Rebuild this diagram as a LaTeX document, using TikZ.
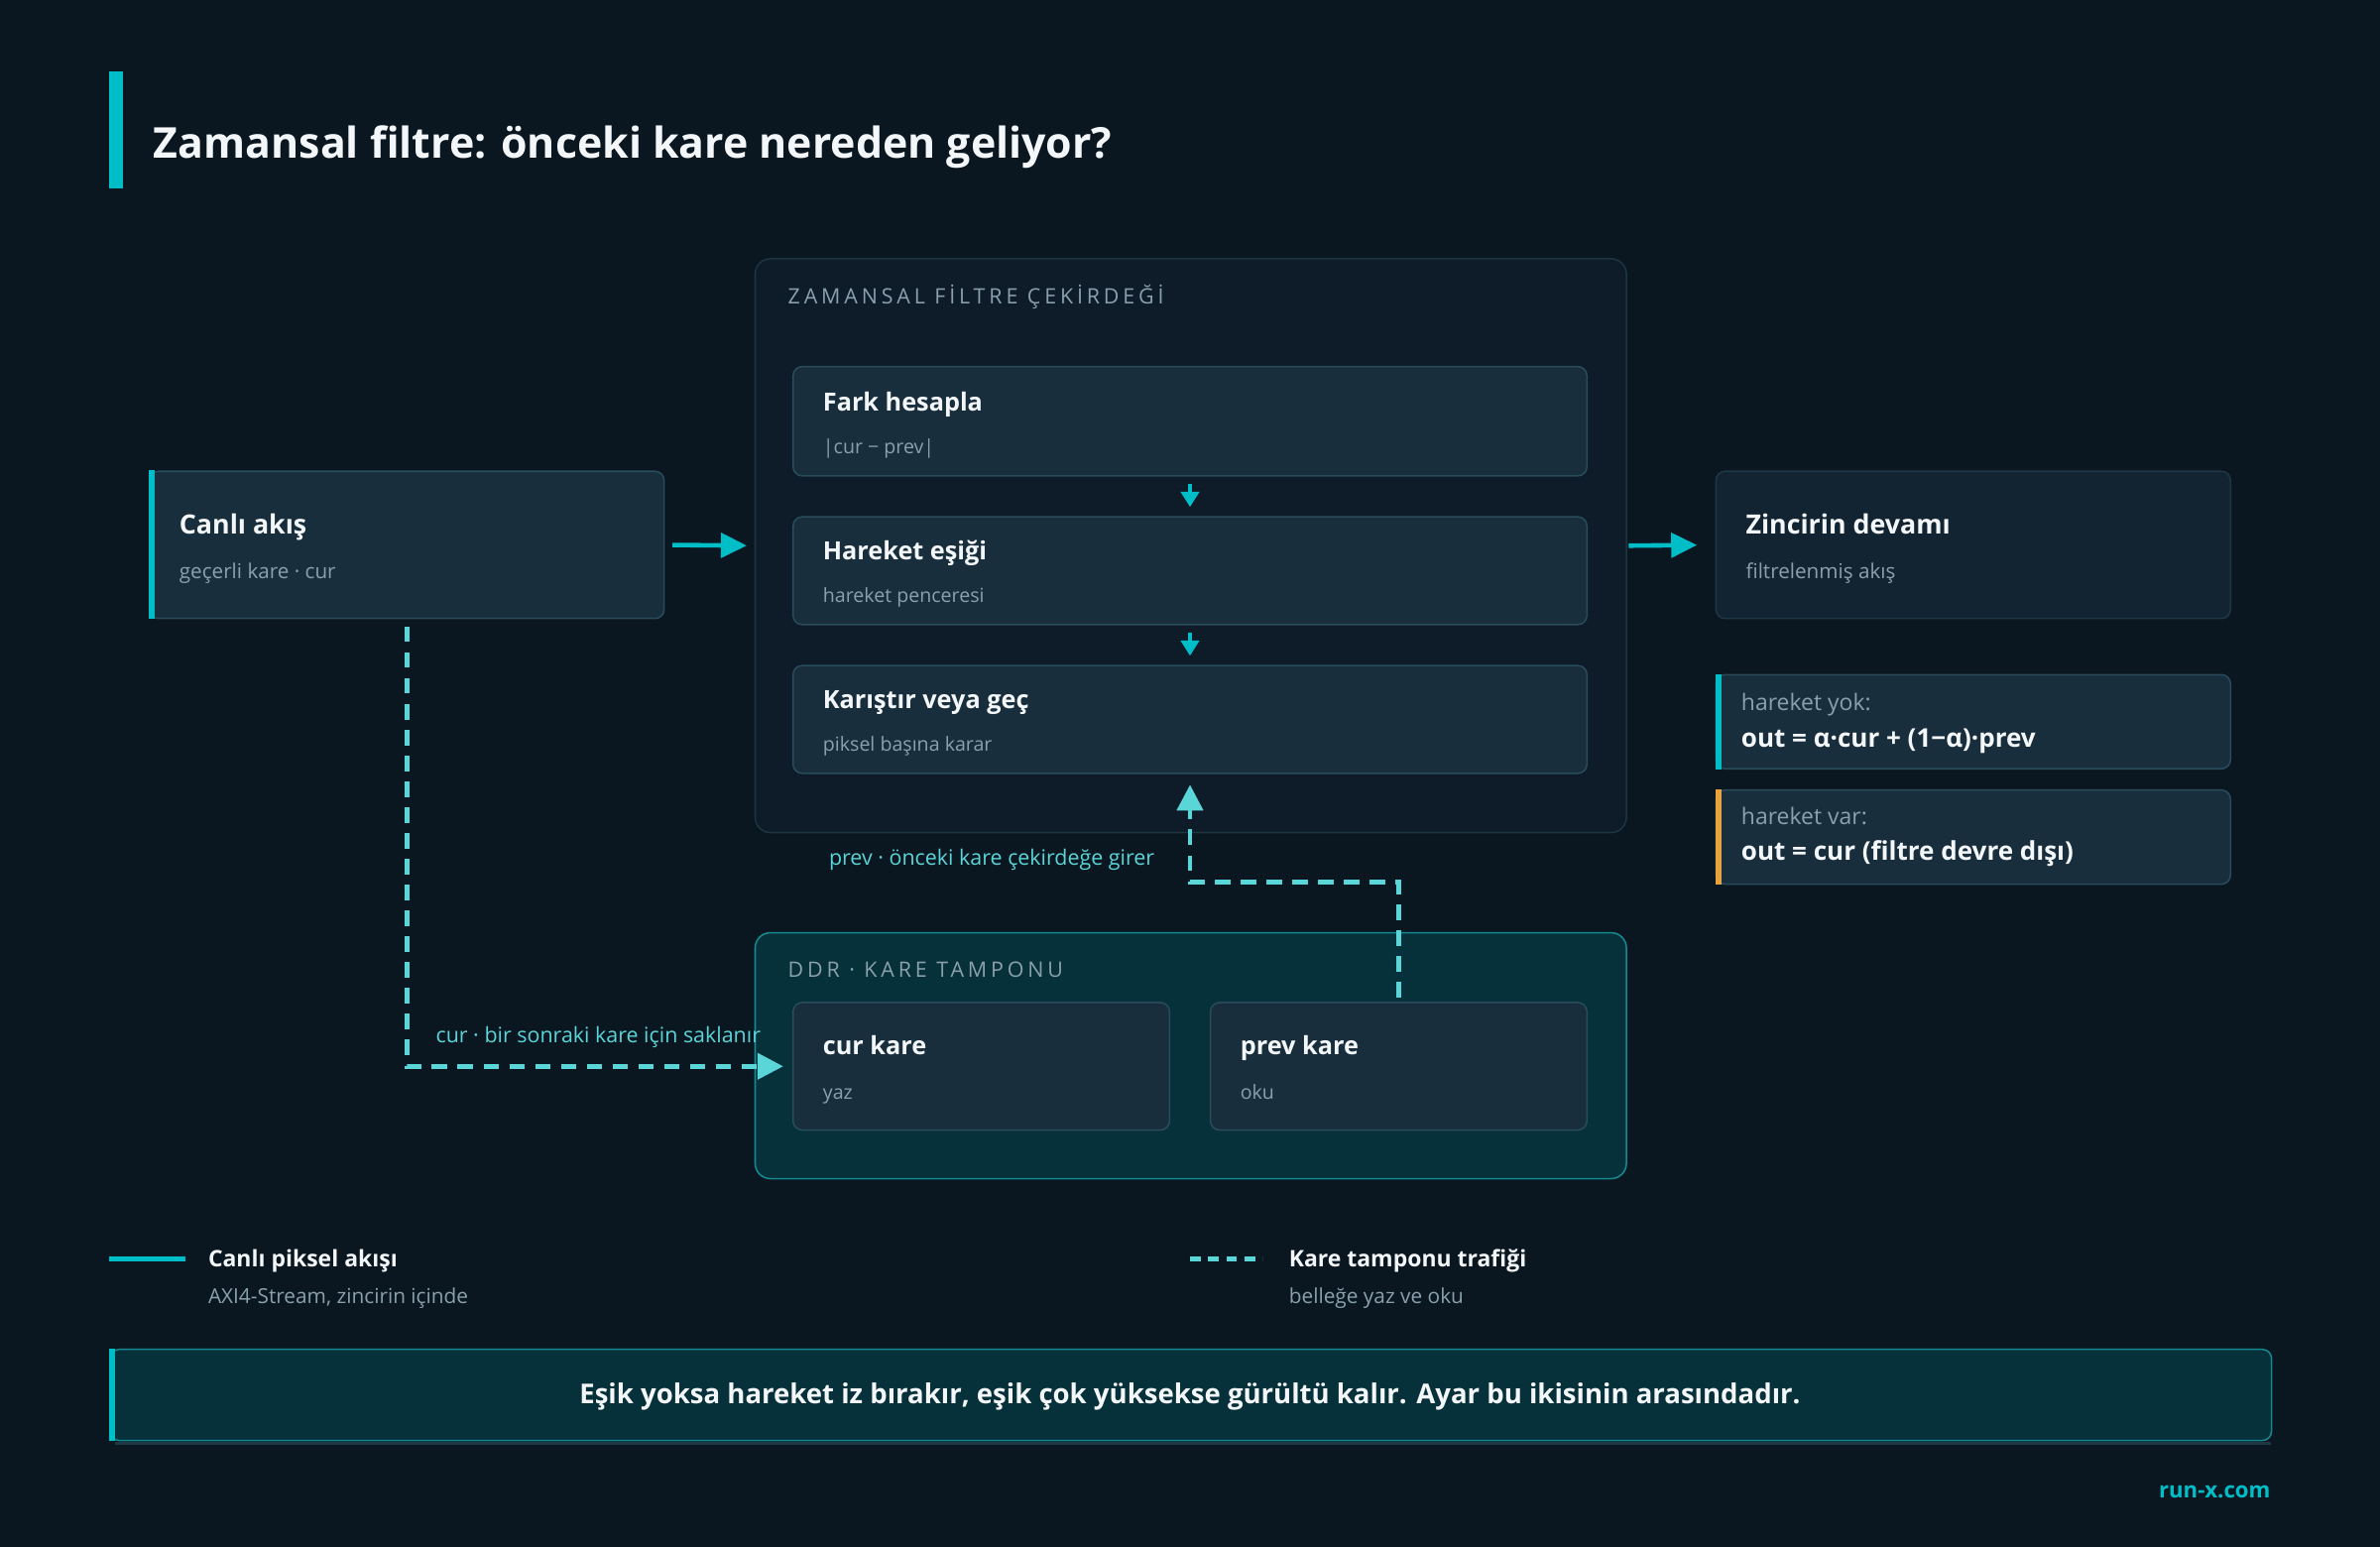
\documentclass[tikz,border=0pt]{standalone}
\usepackage{fontspec}
\setmainfont{Open Sans}
\newfontfamily\capsfont[LetterSpace=18]{Open Sans}
\usetikzlibrary{positioning, calc, arrows.meta}

\definecolor{bg}{HTML}{0A1620}
\definecolor{corefill}{HTML}{0D1C28}
\definecolor{coreline}{HTML}{1D3441}
\definecolor{cardfill}{HTML}{182E3C}
\definecolor{cardline}{HTML}{2A4B5B}
\definecolor{endfill}{HTML}{122431}
\definecolor{endline}{HTML}{1F3745}
\definecolor{livec}{HTML}{00BEC8}
\definecolor{bufc}{HTML}{5AD5D8}
\definecolor{muted}{HTML}{8AA1AD}
\definecolor{ddrfill}{HTML}{07313A}
\definecolor{ddrline}{HTML}{148990}
\definecolor{warnc}{HTML}{E6A23C}
\definecolor{headc}{HTML}{F4F7F9}

\tikzset{
  panel/.style={draw=coreline, fill=corefill, line width=1pt, rounded corners=10pt, anchor=north west, inner sep=0},
  card/.style={draw=cardline, fill=cardfill, line width=1pt, rounded corners=6pt, anchor=north west, inner sep=0},
  head/.style={anchor=base west, inner sep=0, text=headc, font=\fontsize{16.5}{19}\selectfont\bfseries},
  sidehead/.style={head, font=\fontsize{17.5}{20}\selectfont\bfseries},
  sub/.style={anchor=base west, inner sep=0, text=muted, font=\fontsize{12.8}{16}\selectfont},
  sidesub/.style={sub, font=\fontsize{13.5}{16}\selectfont},
  caps/.style={anchor=base west, inner sep=0, text=muted, font=\capsfont\fontsize{14}{16}\selectfont},
  note/.style={anchor=base west, inner sep=0, text=bufc, font=\fontsize{14}{16}\selectfont},
  live/.style={draw=livec, line width=3pt, -{Triangle[length=17pt, width=16pt]}},
  step arrow/.style={draw=livec, line width=2pt, -{Triangle[length=10pt, width=12pt]}},
  buf/.style={draw=bufc, line width=3pt, dash pattern=on 10pt off 7pt, -{Triangle[length=17pt, width=17pt]}},
}

\begin{document}
\begin{tikzpicture}[x=1pt, y=-1pt]
  \fill[bg] (0,0) rectangle (1568,1019);
  \useasboundingbox (0,0) rectangle (1568,1019);

  % title
  \fill[livec] (72,47) rectangle (81,124);
  \node (title) [anchor=base west, inner sep=0, text=headc, font=\fontsize{28}{32}\selectfont\bfseries] at (101,104) {Zamansal filtre: önceki kare nereden geliyor?};

  % filter core
  \node (core) [panel, minimum width=574pt, minimum height=378pt] at (497,170) {};
  \node [caps] at (519,200) {ZAMANSAL FİLTRE ÇEKİRDEĞİ};

  \node (fark) [card, minimum width=523pt, minimum height=72pt] at (522,241) {};
  \node [head] at ($(fark.north west)+(20,30)$) {Fark hesapla};
  \node [sub] at ($(fark.north west)+(20,58)$) {|cur − prev|};

  \node (esik) [card, minimum width=523pt, minimum height=71pt] at (522,340) {};
  \node [head] at ($(esik.north west)+(20,29)$) {Hareket eşiği};
  \node [sub] at ($(esik.north west)+(20,57)$) {hareket penceresi};

  \node (karis) [card, minimum width=523pt, minimum height=71pt] at (522,438) {};
  \node [head] at ($(karis.north west)+(20,29)$) {Karıştır veya geç};
  \node [sub] at ($(karis.north west)+(20,57)$) {piksel başına karar};

  \draw [step arrow, shorten <=5pt, shorten >=6pt] (fark.south) -- (esik.north);
  \draw [step arrow, shorten <=5pt, shorten >=6pt] (esik.south) -- (karis.north);

  % live input
  \node (canli) [card, minimum width=339pt, minimum height=97pt] at (98,310) {};
  \fill[livec] (canli.north west) rectangle ([xshift=4pt]canli.south west);
  \node [sidehead] at ($(canli.north west)+(20,42)$) {Canlı akış};
  \node [sidesub] at ($(canli.north west)+(20,71)$) {geçerli kare · cur};

  % rest of chain
  \node (zincir) [card, draw=endline, fill=endfill, minimum width=339pt, minimum height=97pt] at (1130,310) {};
  \node [sidehead] at ($(zincir.north west)+(20,42)$) {Zincirin devamı};
  \node [sidesub] at ($(zincir.north west)+(20,71)$) {filtrelenmiş akış};

  \draw [live, shorten <=5pt, shorten >=5pt] (canli.east) -- (core.west);
  \draw [live, shorten <=1pt, shorten >=12pt] (core.east) -- (zincir.west);

  % blend rules
  \node (yok) [card, minimum width=339pt, minimum height=62pt] at (1130,444) {};
  \fill[livec] (yok.north west) rectangle ([xshift=4pt]yok.south west);
  \node [sub, font=\fontsize{15}{17}\selectfont] at ($(yok.north west)+(17,24)$) {hareket yok:};
  \node [head, font=\fontsize{17}{19}\selectfont\bfseries] at ($(yok.north west)+(17,48)$) {out = α·cur + (1−α)·prev};

  \node (var) [card, minimum width=339pt, minimum height=62pt] at (1130,520) {};
  \fill[warnc] (var.north west) rectangle ([xshift=4pt]var.south west);
  \node [sub, font=\fontsize{15}{17}\selectfont] at ($(var.north west)+(17,23)$) {hareket var:};
  \node [head, font=\fontsize{17}{19}\selectfont\bfseries] at ($(var.north west)+(17,47)$) {out = cur (filtre devre dışı)};

  % frame buffer
  \node (ddr) [panel, draw=ddrline, fill=ddrfill, minimum width=574pt, minimum height=162pt] at (497,614) {};
  \node [caps] at (519,644) {DDR · KARE TAMPONU};

  \node (curk) [card, minimum width=248pt, minimum height=84pt] at (522,660) {};
  \node [head] at ($(curk.north west)+(20,35)$) {cur kare};
  \node [sub] at ($(curk.north west)+(20,64)$) {yaz};

  \node (prevk) [card, minimum width=248pt, minimum height=84pt] at (797,660) {};
  \node [head] at ($(prevk.north west)+(20,35)$) {prev kare};
  \node [sub] at ($(prevk.north west)+(20,64)$) {oku};

  % buffer traffic
  \draw [buf, shorten <=5pt] (canli.south) |- ([xshift=-6pt]curk.west);
  \node [note] at (287,687) {cur · bir sonraki kare için saklanır};
  \draw [buf, shorten <=3pt] (prevk.north) -- ++(0,-79) -| ([yshift=-7pt]karis.south);
  \node [note] at (546,570) {prev · önceki kare çekirdeğe girer};

  % legend
  \draw [livec, line width=3pt] (72,829.5) -- (122,829.5);
  \node [head, font=\fontsize{15}{17}\selectfont\bfseries] at (137,834.5) {Canlı piksel akışı};
  \node [sub, font=\fontsize{13.6}{16}\selectfont] at (137,858.5) {AXI4-Stream, zincirin içinde};
  \draw [bufc, line width=3pt, dash pattern=on 7pt off 5pt] (784,829.5) -- (832,829.5);
  \node [head, font=\fontsize{15}{17}\selectfont\bfseries] at (849,834.5) {Kare tamponu trafiği};
  \node [sub, font=\fontsize{13.6}{16}\selectfont] at (849,858.5) {belleğe yaz ve oku};

  % takeaway
  \draw [endline, line width=2pt] (76,951) -- (1496,951);
  \node (banner) [panel, draw=ddrline, fill=ddrfill, rounded corners=6pt, minimum width=1424pt, minimum height=60pt] at (72,888.5) {};
  \fill[livec] (banner.north west) rectangle ([xshift=4pt]banner.south west);
  \node [anchor=base, inner sep=0, text=headc, font=\fontsize{18}{20}\selectfont\bfseries] at (784,924.5) {Eşik yoksa hareket iz bırakır, eşik çok yüksekse gürültü kalır. Ayar bu ikisinin arasındadır.};

  \node [anchor=base east, inner sep=0, text=livec, font=\fontsize{14.5}{16}\selectfont\bfseries] at (1496,987) {run-x.com};
\end{tikzpicture}
\end{document}
